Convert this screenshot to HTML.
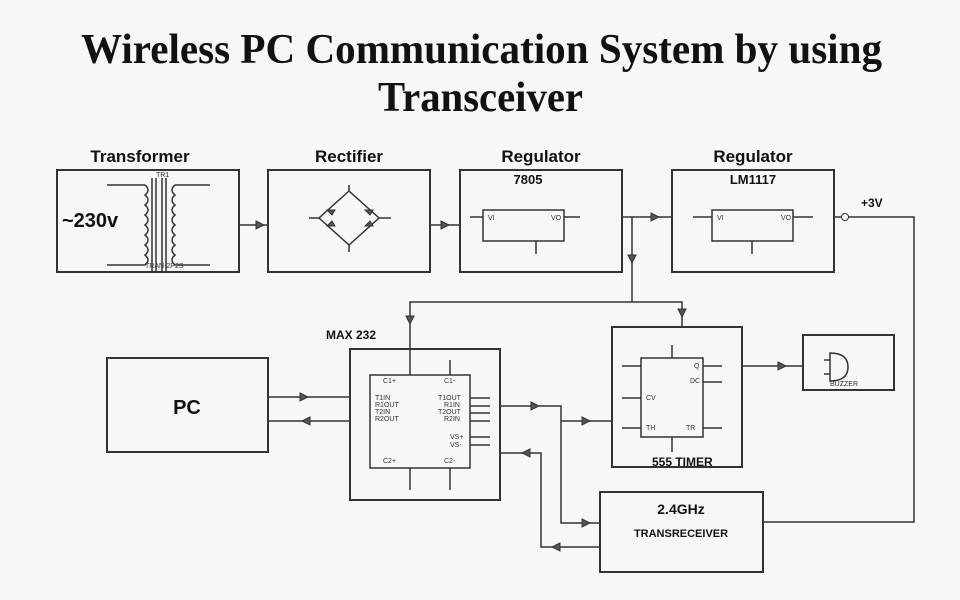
<!DOCTYPE html>
<html><head><meta charset="utf-8"><style>
html,body{margin:0;padding:0;background:#f7f7f7;}
svg{display:block;}
.t{font-family:"Liberation Sans",sans-serif;font-weight:bold;fill:#111;}
.s{font-family:"Liberation Sans",sans-serif;fill:#333;font-size:7px;}
</style></head><body>
<svg width="960" height="600" viewBox="0 0 960 600" xmlns="http://www.w3.org/2000/svg">
<rect width="960" height="600" fill="#f7f7f7"/>
<text x="81" y="63" font-family="Liberation Serif" font-weight="bold" font-size="42" textLength="801" lengthAdjust="spacingAndGlyphs" fill="#111">Wireless PC Communication System by using</text>
<text x="378" y="111" font-family="Liberation Serif" font-weight="bold" font-size="42" textLength="205" lengthAdjust="spacingAndGlyphs" fill="#111">Transceiver</text>

<g fill="none" stroke="#333" stroke-width="2">
<rect x="57" y="170" width="182" height="102"/>
<rect x="268" y="170" width="162" height="102"/>
<rect x="460" y="170" width="162" height="102"/>
<rect x="672" y="170" width="162" height="102"/>
<rect x="107" y="358" width="161" height="94"/>
<rect x="350" y="349" width="150" height="151"/>
<rect x="612" y="327" width="130" height="140"/>
<rect x="803" y="335" width="91" height="55"/>
<rect x="600" y="492" width="163" height="80"/>
</g>
<g fill="none" stroke="#333" stroke-width="1.5">
<rect x="370" y="375" width="100" height="93"/>
<rect x="641" y="358" width="62" height="79"/>
<rect x="483" y="210" width="81" height="31"/>
<rect x="712" y="210" width="81" height="31"/>
<polyline points="239,225 268,225"/>
<polyline points="430,225 460,225"/>
<polyline points="622,217 672,217"/>
<polyline points="834,217 914,217 914,522 763,522"/>
<polyline points="632,217 632,302"/>
<polyline points="410,349 410,302 682,302 682,327"/>
<polyline points="268,397 350,397"/>
<polyline points="268,421 350,421"/>
<polyline points="500,406 561,406 561,523 600,523"/>
<polyline points="561,421 612,421"/>
<polyline points="600,547 541,547 541,453 500,453"/>
<polyline points="742,366 803,366"/>
<polyline points="470,217 483,217"/><polyline points="564,217 580,217"/><polyline points="536,241 536,254"/>
<polyline points="693,217 712,217"/><polyline points="793,217 813,217"/><polyline points="752,241 752,254"/>
<polyline points="107,185 145,185"/><polyline points="107,265 145,265"/>
<polyline points="175,185 210,185"/><polyline points="175,265 210,265"/>
<line x1="152" y1="178" x2="152" y2="272"/><line x1="156" y1="178" x2="156" y2="272"/><line x1="162" y1="178" x2="162" y2="272"/><line x1="166" y1="178" x2="166" y2="272"/>
<path d="M145,185 q6,5 0,10 q6,5 0,10 q6,5 0,10 q6,5 0,10 q6,5 0,10 q6,5 0,10 q6,5 0,10 q6,5 0,10"/>
<path d="M175,185 q-6,5 0,10 q-6,5 0,10 q-6,5 0,10 q-6,5 0,10 q-6,5 0,10 q-6,5 0,10 q-6,5 0,10 q-6,5 0,10"/>
<path d="M349,191 L319,218 L349,245 L379,218 Z"/>
<polyline points="309,218 319,218"/><polyline points="379,218 391,218"/>
<polyline points="349,185 349,191"/><polyline points="349,245 349,252"/>
<polyline points="410,349 410,375"/><polyline points="450,360 450,375"/>
<polyline points="410,468 410,490"/><polyline points="450,468 450,490"/>
<polyline points="470,398 490,398"/><polyline points="470,406 490,406"/><polyline points="470,413 490,413"/><polyline points="470,421 490,421"/>
<polyline points="470,437 490,437"/><polyline points="470,445 490,445"/>
<polyline points="622,366 641,366"/><polyline points="622,398 641,398"/><polyline points="622,428 641,428"/>
<polyline points="703,366 722,366"/><polyline points="703,382 722,382"/><polyline points="703,428 722,428"/>
<polyline points="672,345 672,358"/><polyline points="672,437 672,452"/>
<path d="M830,353 q18,0 18,14 q0,14 -18,14 Z"/>
<polyline points="824,360 830,360"/><polyline points="824,374 830,374"/>
</g>
<g fill="#555" stroke="#333" stroke-width="1">
<path d="M256,221 l8,4 l-8,4z"/><path d="M441,221 l8,4 l-8,4z"/><path d="M651,213 l8,4 l-8,4z"/>
<circle cx="845" cy="217" r="3.5" fill="#fff"/>
<path d="M628,255 l4,8 l4,-8z"/><path d="M406,316 l4,8 l4,-8z"/><path d="M678,309 l4,8 l4,-8z"/>
<path d="M300,393 l8,4 l-8,4z"/><path d="M310,417 l-8,4 l8,4z"/>
<path d="M531,402 l8,4 l-8,4z"/><path d="M582,417 l8,4 l-8,4z"/><path d="M582,519 l8,4 l-8,4z"/>
<path d="M530,449 l-8,4 l8,4z"/><path d="M560,543 l-8,4 l8,4z"/><path d="M778,362 l8,4 l-8,4z"/>
<path d="M327,210 l5,5 l3,-5z"/><path d="M365,210 l5,5 l3,-5z"/><path d="M327,226 l5,-5 l3,5z"/><path d="M365,226 l5,-5 l3,5z"/>
</g>
<text class="t" x="140" y="162" font-size="17" text-anchor="middle">Transformer</text>
<text class="t" x="349" y="162" font-size="17" text-anchor="middle">Rectifier</text>
<text class="t" x="541" y="162" font-size="17" text-anchor="middle">Regulator</text>
<text class="t" x="753" y="162" font-size="17" text-anchor="middle">Regulator</text>
<text class="t" x="528" y="184" font-size="13" text-anchor="middle">7805</text>
<text class="t" x="753" y="184" font-size="13" text-anchor="middle">LM1117</text>
<text class="t" x="62" y="227" font-size="20">~230v</text>
<text class="t" x="861" y="207" font-size="12">+3V</text>
<text class="t" x="187" y="414" font-size="20" text-anchor="middle">PC</text>
<text class="t" x="326" y="339" font-size="12">MAX 232</text>
<text class="t" x="652" y="466" font-size="12">555 TIMER</text>
<text class="t" x="681" y="514" font-size="14" text-anchor="middle">2.4GHz</text>
<text class="t" x="681" y="537" font-size="11" text-anchor="middle">TRANSRECEIVER</text>
<text class="s" x="156" y="177">TR1</text>
<text class="s" x="145" y="268">TRAN-2P2S</text>
<text class="s" x="375" y="400">T1IN</text><text class="s" x="375" y="407">R1OUT</text><text class="s" x="375" y="414">T2IN</text><text class="s" x="375" y="421">R2OUT</text>
<text class="s" x="438" y="400">T1OUT</text><text class="s" x="444" y="407">R1IN</text><text class="s" x="438" y="414">T2OUT</text><text class="s" x="444" y="421">R2IN</text>
<text class="s" x="450" y="439">VS+</text><text class="s" x="450" y="447">VS-</text>
<text class="s" x="383" y="383">C1+</text><text class="s" x="444" y="383">C1-</text><text class="s" x="383" y="463">C2+</text><text class="s" x="444" y="463">C2-</text>
<text class="s" x="646" y="430">TH</text><text class="s" x="686" y="430">TR</text><text class="s" x="646" y="400">CV</text><text class="s" x="690" y="383">DC</text><text class="s" x="694" y="368">Q</text>
<text class="s" x="488" y="220">VI</text><text class="s" x="551" y="220">VO</text><text class="s" x="717" y="220">VI</text><text class="s" x="781" y="220">VO</text>
<text class="s" x="830" y="386">BUZZER</text>
</svg>
</body></html>
